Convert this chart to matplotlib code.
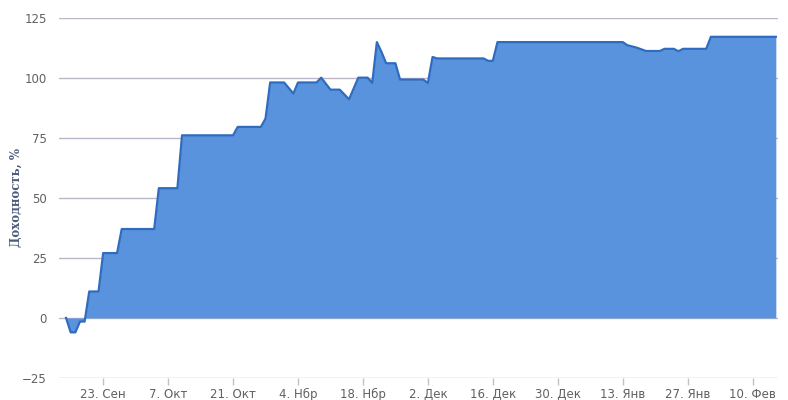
import matplotlib
matplotlib.use("Agg")
import matplotlib.pyplot as plt
import numpy as np
import pandas as pd

# readings of the yield curve (date, %)
dates = ["2013-09-15", "2013-09-16", "2013-09-17", "2013-09-18", "2013-09-19",
         "2013-09-20", "2013-09-22", "2013-09-23", "2013-09-26", "2013-09-27",
         "2013-10-04", "2013-10-05", "2013-10-09", "2013-10-10", "2013-10-21",
         "2013-10-22", "2013-10-27", "2013-10-28", "2013-10-29", "2013-11-01",
         "2013-11-03", "2013-11-04", "2013-11-08", "2013-11-09", "2013-11-11",
         "2013-11-13", "2013-11-15", "2013-11-17", "2013-11-19", "2013-11-20",
         "2013-11-21", "2013-11-22", "2013-11-23", "2013-11-25", "2013-11-26",
         "2013-12-01", "2013-12-02", "2013-12-03", "2013-12-04", "2013-12-14",
         "2013-12-15", "2013-12-16", "2013-12-17", "2014-01-13", "2014-01-14",
         "2014-01-16", "2014-01-18", "2014-01-21", "2014-01-22", "2014-01-24",
         "2014-01-25", "2014-01-26", "2014-01-31", "2014-02-01", "2014-02-15"]
values = [0, -6, -6, -1.5, -1.5,
          11, 11, 27, 27, 37,
          37, 54, 54, 76, 76,
          79.5, 79.5, 83, 98, 98,
          93.4, 98, 98, 100, 95,
          95, 91, 100, 100, 97.8,
          114.8, 110.7, 106, 106, 99.2,
          99.2, 97.8, 108.6, 108, 108,
          107, 107, 114.8, 114.8, 113.5,
          112.5, 111.1, 111.1, 112, 112,
          111, 112, 112, 117, 117]

tick_dates = ["2013-09-23", "2013-10-07", "2013-10-21", "2013-11-04", "2013-11-18",
              "2013-12-02", "2013-12-16", "2013-12-30", "2014-01-13", "2014-01-27",
              "2014-02-10"]
tick_labels = ["23. Сен", "7. Окт", "21. Окт", "4. Нбр", "18. Нбр", "2. Дек",
               "16. Дек", "30. Дек", "13. Янв", "27. Янв", "10. Фев"]
y_ticks = [-25, 0, 25, 50, 75, 100, 125]

x = pd.to_datetime(dates)
y = np.array(values)

fig = plt.figure(figsize=(7.88, 4), dpi=100)
ax = fig.add_axes([0.075, 0.055, 0.912, 0.901])

ax.fill_between(x, y, 0, color="#5a93dd", linewidth=0)
ax.plot(x, y, color="#2f6cbf", linewidth=1.6)

for v in y_ticks:
    ax.axhline(v, color="#bdb5c8", linewidth=1, zorder=0)

ax.set_ylim(-25, 125)
ax.set_yticks(y_ticks)
ax.set_xlim(pd.Timestamp("2013-09-13 12:00"), pd.Timestamp("2014-02-15 10:00"))
ax.set_xticks(pd.to_datetime(tick_dates))
ax.set_xticklabels(tick_labels)

for s in ax.spines.values():
    s.set_visible(False)
ax.tick_params(axis="y", length=0, pad=9, labelsize=8.5, labelcolor="#606060")
ax.tick_params(axis="x", length=5, width=1, color="#c0c0d0", pad=2,
               labelsize=8.5, labelcolor="#606060")

ax.set_ylabel("Доходность, %", family="DejaVu Serif", fontweight="bold",
              fontsize=8.5, color="#4d5b7c")
ax.yaxis.set_label_coords(-0.051, 0.5)

fig.savefig("out.png", dpi=100)
